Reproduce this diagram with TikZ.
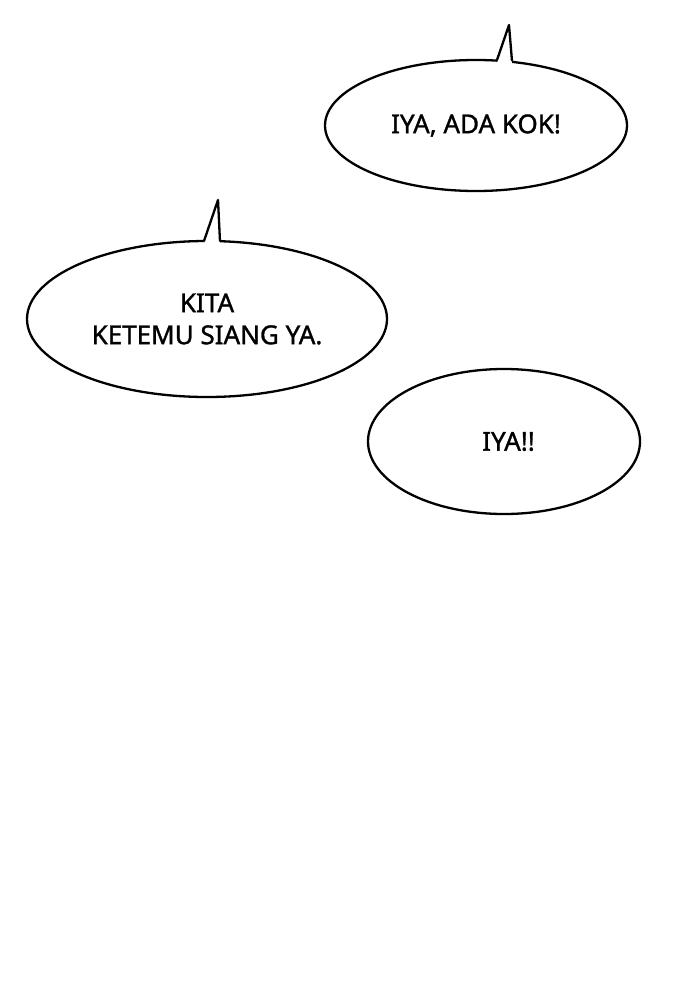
\documentclass[tikz,border=0pt]{standalone}
\usepackage{fontspec}
\setmainfont{Noto Sans}[FakeBold=1.2]
\usetikzlibrary{shapes.geometric, positioning, calc}

\begin{document}
\begin{tikzpicture}[x=1pt, y=-1pt]
		\tikzstyle{bubble}=[ellipse, draw=black, line width=2.3pt, fill=white, inner sep=0pt, align=center, font=\fontsize{26}{32}\selectfont\bfseries]
		\tikzstyle{tail}=[draw=black, line width=2.3pt, line join=round]
		
		\useasboundingbox [fill=white] (0,0) rectangle (700,982);
		
		\node (ada) at (476,125.5) [bubble, minimum width=302pt, minimum height=131pt] {IYA, ADA KOK!};
		\node (kita) at (207,319) [bubble, minimum width=360pt, minimum height=156pt] {KITA\\KETEMU SIANG YA.};
		\node (iya) at (504,441.5) [bubble, minimum width=272pt, minimum height=145pt] {\hspace*{9pt}IYA!!};
		
		% tails
		\coordinate (adaL) at (497,60);
		\coordinate (adaT) at (509,25);
		\coordinate (adaR) at (512,61);
		\fill [white] ($(adaL)+(0,3)$) -- (adaT) -- ($(adaR)+(0,3)$) -- cycle;
		\draw [tail] (adaL) -- (adaT) -- (adaR);
		
		\coordinate (kitaL) at (204,241);
		\coordinate (kitaT) at (218,200);
		\coordinate (kitaR) at (220,241.5);
		\fill [white] ($(kitaL)+(0,3)$) -- (kitaT) -- ($(kitaR)+(0,3)$) -- cycle;
		\draw [tail] (kitaL) -- (kitaT) -- (kitaR);
		\end{tikzpicture}
\end{document}
